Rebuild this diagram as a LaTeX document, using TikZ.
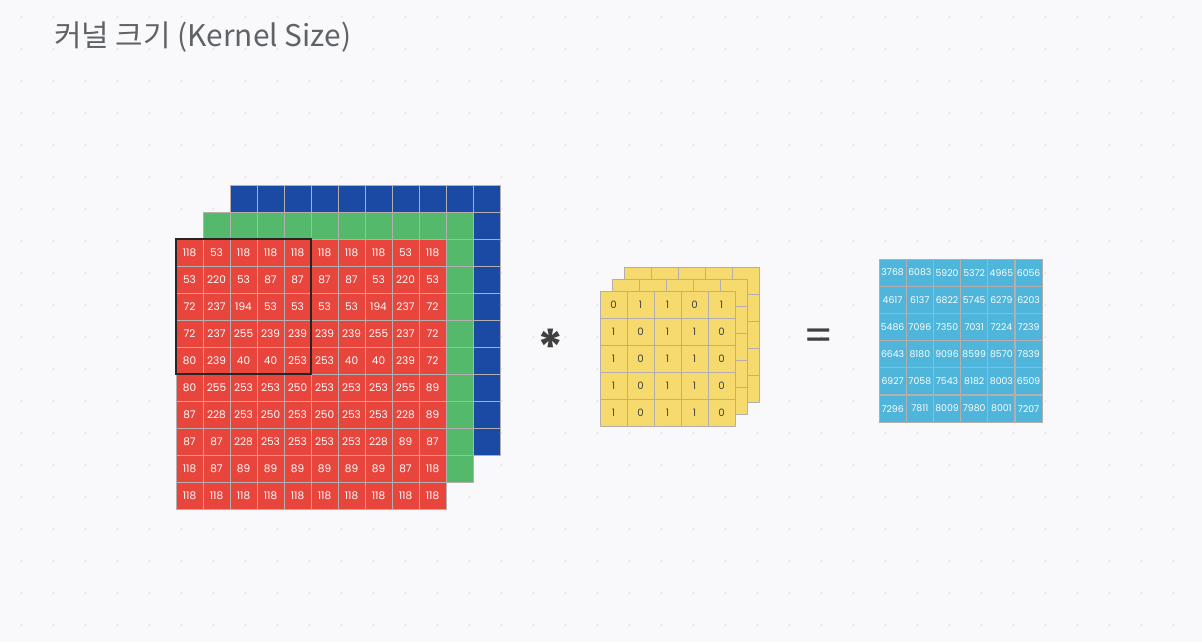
\documentclass[tikz,border=0pt]{standalone}
\usepackage{fontspec}
\setmainfont{Poppins}
\newfontfamily\krfont{Noto Sans CJK KR}
\definecolor{bgcol}{HTML}{F9F9FB}
\definecolor{dotcol}{HTML}{E6E7EB}
\definecolor{chred}{HTML}{E8453C}
\definecolor{chgreen}{HTML}{55B96B}
\definecolor{chblue}{HTML}{1B4AA5}
\definecolor{kyellow}{HTML}{F7DA6E}
\definecolor{outblue}{HTML}{4FB5DB}
\definecolor{textgray}{HTML}{5F6368}
\definecolor{linegray}{HTML}{B4AEAE}
\tikzset{
  cell/.style={draw=linegray, line width=0.5pt, minimum size=0.54cm, inner sep=0pt, outer sep=0pt},
  redcell/.style={cell, fill=chred, text=white, font=\fontsize{6}{6}\selectfont},
  greencell/.style={cell, fill=chgreen},
  bluecell/.style={cell, fill=chblue},
  kercell/.style={cell, fill=kyellow, text=black!75, font=\fontsize{5.8}{5.8}\selectfont},
  outcell/.style={cell, fill=outblue, text=white, font=\fontsize{5.3}{5.3}\selectfont},
  opsign/.style={text=black!75},
}
\begin{document}
\begin{tikzpicture}[x=0.02cm, y=-0.02cm]
\fill[bgcol] (0,0) rectangle (1202,642);
\useasboundingbox (0,0) rectangle (1202,642);
% dotted background
\foreach \i in {0,1,...,37}
  \foreach \j in {0,1,...,19}
    \fill[dotcol] ({21.5+32*\i},{17+32*\j}) circle [radius=1.1];
\node[anchor=west, text=textgray, font=\krfont\fontsize{17}{17}\selectfont] (title) at (48,37) {커널 크기 (Kernel Size)};
% input image: blue, green, red channels
\foreach \r in {1,...,10}
  \foreach \c in {1,...,10}
  {
    \node[bluecell] (blue-\r-\c) at ({230+13.5+27*(\c-1)},{185+13.5+27*(\r-1)}) {};
  }
\foreach \r in {1,...,10}
  \foreach \c in {1,...,10}
  {
    \node[greencell] (green-\r-\c) at ({203+13.5+27*(\c-1)},{212+13.5+27*(\r-1)}) {};
  }
\foreach \row [count=\r] in {
  {118,53,118,118,118,118,118,118,53,118},
  {53,220,53,87,87,87,87,53,220,53},
  {72,237,194,53,53,53,53,194,237,72},
  {72,237,255,239,239,239,239,255,237,72},
  {80,239,40,40,253,253,40,40,239,72},
  {80,255,253,253,250,253,253,253,255,89},
  {87,228,253,250,253,250,253,253,228,89},
  {87,87,228,253,253,253,253,228,89,87},
  {118,87,89,89,89,89,89,89,87,118},
  {118,118,118,118,118,118,118,118,118,118}}
  \foreach \v [count=\c] in \row
  {
    \node[redcell] (red-\r-\c) at ({176+13.5+27*(\c-1)},{239+13.5+27*(\r-1)}) {\v};
  }
\draw[black!85, line width=1.3pt] (red-1-1.north west) rectangle (red-5-5.south east);
\node[opsign, font=\fontsize{28}{28}\selectfont\bfseries] (star) at (551,347) {*};
% kernel, three layers
\foreach \k in {2,1}
  \foreach \r in {1,...,5}
    \foreach \c in {1,...,5}
    {
      \node[kercell] (ker\k-\r-\c) at ({600+12*\k+13.5+27*(\c-1)},{291-12*\k+13.5+27*(\r-1)}) {};
    }
\foreach \row [count=\r] in {{0,1,1,0,1},{1,0,1,1,0},{1,0,1,1,0},{1,0,1,1,0},{1,0,1,1,0}}
  \foreach \v [count=\c] in \row
  {
    \node[kercell] (ker0-\r-\c) at ({600+13.5+27*(\c-1)},{291+13.5+27*(\r-1)}) {\v};
  }
\node[opsign, font=\fontsize{24}{24}\selectfont] (equal) at (819,340) {=};
% output feature map
\foreach \row [count=\r] in {
  {3768,6083,5920,5372,4965,6056},
  {4617,6137,6822,5745,6279,6203},
  {5486,7096,7350,7031,7224,7239},
  {6643,8180,9096,8599,8570,7839},
  {6927,7058,7543,8182,8003,6509},
  {7296,7811,8009,7980,8001,7207}}
  \foreach \v [count=\c] in \row
  {
    \node[outcell] (out-\r-\c) at ({879+13.6+27.2*(\c-1)},{259+13.6+27.2*(\r-1)}) {\v};
  }
\end{tikzpicture}
\end{document}
